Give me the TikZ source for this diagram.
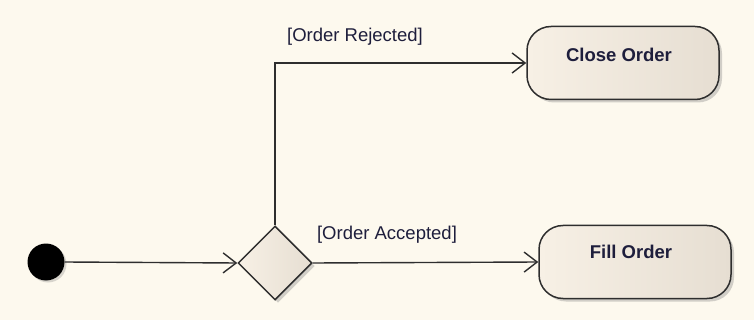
\documentclass[tikz,border=0pt]{standalone}
\usepackage{fontspec}
\setmainfont{Liberation Sans}
\usetikzlibrary{arrows.meta,shapes.geometric,shadows}
\definecolor{bgc}{HTML}{FDF9EE}
\definecolor{nfL}{HTML}{F7F0E5}
\definecolor{nfR}{HTML}{E6DED2}
\definecolor{edge}{HTML}{2E2E2E}
\definecolor{txt}{HTML}{1E1E3C}
\tikzset{
  actbox/.style={draw=edge, line width=1.5pt, rounded corners=24pt,
    minimum width=192pt, minimum height=73pt, left color=nfL, right color=nfR,
    drop shadow={shadow xshift=3pt, shadow yshift=-3pt, opacity=0.35, fill=gray}},
  decbox/.style={draw=edge, line width=1.5pt, diamond, inner sep=0pt,
    minimum width=74pt, minimum height=74pt, left color=nfL, right color=nfR,
    drop shadow={shadow xshift=3pt, shadow yshift=-3pt, opacity=0.35, fill=gray}},
  startdot/.style={circle, fill=black, inner sep=0pt, minimum size=37pt,
    drop shadow={shadow xshift=2pt, shadow yshift=-2pt, opacity=0.3, fill=gray}},
  acttext/.style={font=\fontsize{18.5}{22}\selectfont\bfseries, text=txt},
  guard/.style={font=\fontsize{18.5}{22}\selectfont, text=txt},
  flow/.style={draw=edge, line width=1.4pt, -{Straight Barb[length=13pt,width=20pt,line width=1.4pt]}}
}
\begin{document}
\begin{tikzpicture}[x=1pt,y=-1pt]
\fill[bgc] (0,0) rectangle (754,320);
\useasboundingbox (0,0) rectangle (754,320);
\node[startdot] (init) at (46,262) {};
\node[decbox] (dec) at (275,263) {};
\node[actbox] (close) at (623,63) {};
\node[acttext] (closetxt) at (619,55) {Close Order};
\node[actbox] (fill) at (635,262) {};
\node[acttext] (filltxt) at (631,252) {Fill Order};
\draw[flow] (init.east) -- (dec.west);
\draw[flow] (dec.north) |- (close.west);
\draw[flow] (dec.east) -- (fill.west);
\node[guard] (rej) at (355,37) {[Order Rejected]};
\node[guard] (acc) at (387,235) {[Order Accepted]};
\end{tikzpicture}
\end{document}
